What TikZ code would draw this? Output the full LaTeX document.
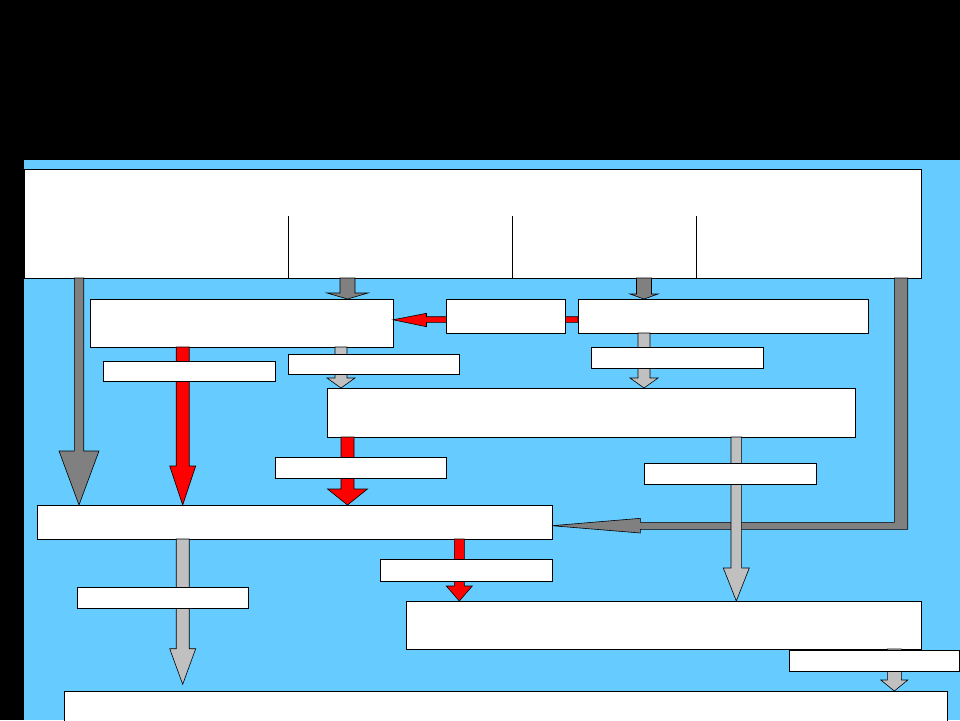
\documentclass[tikz,border=0pt]{standalone}
\usetikzlibrary{calc,fit}
\definecolor{skyb}{HTML}{66CCFF}
\definecolor{dgray}{HTML}{808080}
\definecolor{lgray}{HTML}{C0C0C0}
\definecolor{rred}{HTML}{FF0000}
% vertical block arrow: #1 style, #2 x, #3 from node, #4 to node,
% #5 shaft half width, #6 head half width, #7 head length, #8 gap before target
\newcommand{\varrow}[8]{%
  \path[blk,#1] let \p1=(#3.south), \p2=(#4.north) in
    ({(#2-#5)*1pt},\y1) -- ({(#2-#5)*1pt},{\y2+(#8+#7)*1pt})
    -- ({(#2-#6)*1pt},{\y2+(#8+#7)*1pt}) -- ({#2*1pt},{\y2+#8*1pt})
    -- ({(#2+#6)*1pt},{\y2+(#8+#7)*1pt}) -- ({(#2+#5)*1pt},{\y2+(#8+#7)*1pt})
    -- ({(#2+#5)*1pt},\y1) -- cycle;}
\begin{document}
\begin{tikzpicture}[x=1pt,y=-1pt,
  box/.style={draw=black,fill=white,line width=0.8pt,inner sep=0pt,outer sep=0pt},
  blk/.style={draw=black,line width=0.6pt,line join=miter}]
\useasboundingbox (0,0) rectangle (960,720);
\fill[black] (0,0) rectangle (960,720);
\fill[skyb] (24,160) rectangle (960,720);

% main boxes
\node[box,fit={(24,169) (921,278)}] (top) {};
\draw[line width=0.8pt] (288,216) -- (288,278);
\draw[line width=0.8pt] (512,216) -- (512,278);
\draw[line width=0.8pt] (696,216) -- (696,278);
\node[box,fit={(90,299) (393,347)}] (A) {};
\node[box,fit={(578,299) (868,333)}] (C) {};
\node[box,fit={(327,388) (855,437)}] (D) {};
\node[box,fit={(37,505) (552,539)}] (G) {};
\node[box,fit={(406,601) (921,649)}] (J) {};
\node[box,fit={(64,691) (947,730)}] (L) {};

% red arrow C -> A (behind B)
\path[blk,fill=rred] let \p1=(C.west), \p2=(A.east) in
  ({\x1},-322.3pt) -- ({\x2+33.5pt},-322.3pt) -- ({\x2+33.5pt},-326.7pt)
  -- ({\x2},-319.8pt) -- ({\x2+33.5pt},-313.3pt) -- ({\x2+33.5pt},-316.7pt)
  -- ({\x1},-316.7pt) -- cycle;
\node[box,fit={(446,299) (565,333)}] (B) {};

% vertical block arrows
\varrow{fill=dgray}{347.5}{top}{A}{7.5}{20.5}{6}{0}
\varrow{fill=dgray}{644}{top}{C}{7.5}{14}{5}{0}
\varrow{fill=lgray}{341}{A}{D}{6}{14}{10}{0}
\varrow{fill=lgray}{644}{C}{D}{6}{14}{10}{0}
\varrow{fill=rred}{182.7}{A}{G}{6.5}{13}{39}{0}
\varrow{fill=dgray}{79}{top}{G}{4.7}{20}{54}{0}
\varrow{fill=rred}{347.5}{D}{G}{6.5}{20}{16}{0}

% bent dark gray arrow top -> G
\path[blk,fill=dgray] let \p1=(top.south), \p2=(G.east) in
  (894.3pt,\y1) -- (907.7pt,\y1) -- (907.7pt,-529.3pt)
  -- ({\x2+88.4pt},-529.3pt) -- ({\x2+88.4pt},-533pt) -- (\x2,-525.7pt)
  -- ({\x2+88.4pt},-518.3pt) -- ({\x2+88.4pt},-522.3pt)
  -- (894.3pt,-522.3pt) -- cycle;

\varrow{fill=lgray}{736.3}{D}{J}{5.3}{13}{33}{0}
\varrow{fill=lgray}{182.7}{G}{L}{6.5}{13}{35.6}{6.7}
\varrow{fill=rred}{459.3}{G}{J}{5}{13}{15}{0}
\varrow{fill=lgray}{894.3}{J}{L}{7}{13.5}{11}{0}

% label boxes
\node[box,fit={(103,361) (275,381)}] (H) {};
\node[box,fit={(288,354) (459,374)}] (E) {};
\node[box,fit={(591,347) (763,368)}] (F) {};
\node[box,fit={(275,457) (446,478)}] (I) {};
\node[box,fit={(644,463) (816,484)}] (K) {};
\node[box,fit={(77,587) (248,608)}] (M) {};
\node[box,fit={(380,559) (552,581)}] (N) {};
\node[box,fit={(789,650) (959,671)}] (O) {};
\end{tikzpicture}
\end{document}
